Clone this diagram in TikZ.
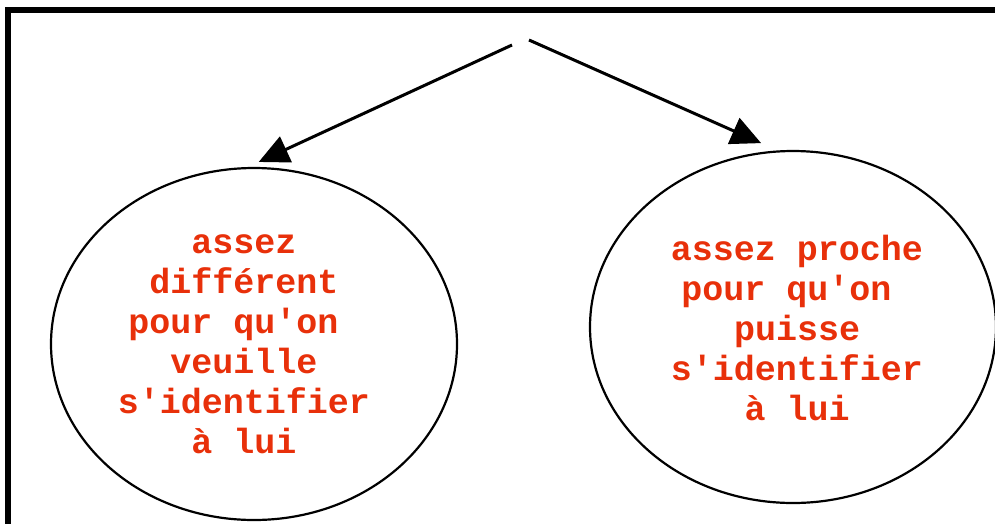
\documentclass[tikz,border=0pt]{standalone}
\usepackage{fontspec}
\usetikzlibrary{shapes.geometric,arrows.meta}
\newfontfamily\monobold{Liberation Mono}[BoldFont={* Bold}]
\definecolor{textred}{RGB}{232,48,10}
\newcommand{\tsp}{\ \mbox{}}
\begin{document}
\begin{tikzpicture}[x=1pt, y=-1pt,
  ball/.style = {shape=ellipse, draw, line width=2.2pt,
    minimum width=406pt, minimum height=352pt, inner sep=0pt},
  words/.style = {align=center, text=textred,
    font=\monobold\bfseries\fontsize{35}{40}\selectfont},
  arr/.style = {line width=3pt,
    -{Triangle[length=30pt, width=28pt]}}]
  \useasboundingbox (0,0) rectangle (995,523);
  % frame, cut at right and bottom
  \draw[line width=6pt] (8,540) -- (8,10) -- (1010,10);
  \node[ball] (lball) at (254,344) {};
  \node[ball] (rball) at (793,327) {};
  \node[words] (ltext) at (244,344) {assez\\différent\\pour qu'on\tsp\\veuille\\s'identifier\\à lui};
  \node[words] (rtext) at (797,328) {assez proche\\pour qu'on\tsp\\puisse\\s'identifier\\à lui};
  \coordinate (lstart) at (512,45);
  \coordinate (rstart) at (529,40);
  \draw[arr, shorten >=12pt] (lstart) -- (lball.92.6);
  \draw[arr, shorten >=18pt] (rstart) -- (rball.95.5);
\end{tikzpicture}
\end{document}
